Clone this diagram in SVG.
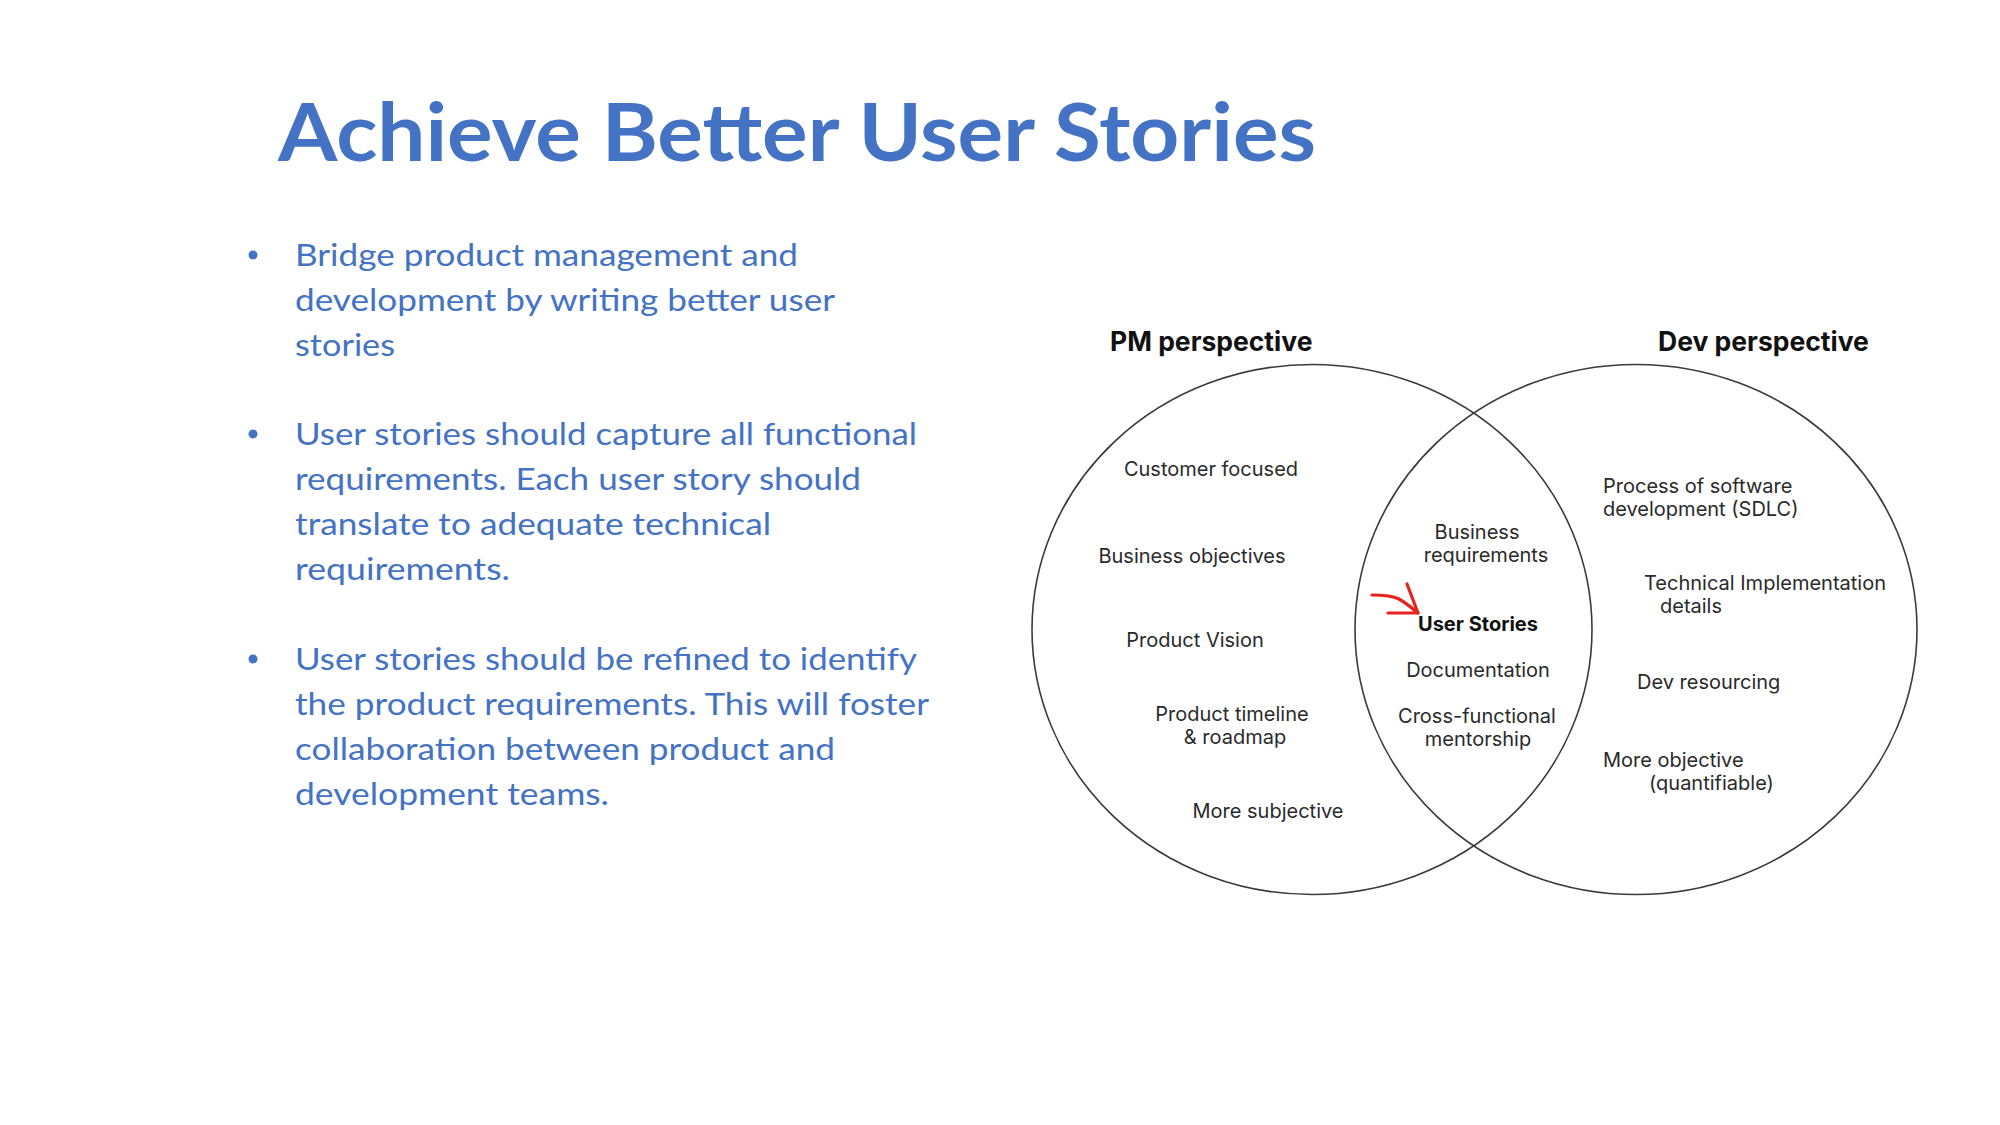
<svg xmlns="http://www.w3.org/2000/svg" width="2000" height="1125" viewBox="0 0 2000 1125">
  <style>
    .title { font-family: Lato, "Liberation Sans", sans-serif; font-weight: 700; font-size: 80px; fill: #4472C4; }
    .bullet { font-family: Lato, "Liberation Sans", sans-serif; font-size: 31px; fill: #4472C4; }
    .dot { fill: #4472C4; }
    .ring { fill: none; stroke: #3a3a3a; stroke-width: 1.6; }
    .head { font-family: Inter, "Liberation Sans", sans-serif; font-weight: 700; font-size: 26.5px; fill: #111; }
    .lbl { font-family: Inter, "Liberation Sans", sans-serif; font-size: 20px; fill: #2a2a2a; }
    .lbl-b { font-family: Inter, "Liberation Sans", sans-serif; font-weight: 700; font-size: 20px; fill: #111; }
    .mid { text-anchor: middle; }
    .pen { fill: none; stroke: #e8231c; stroke-width: 3.2; stroke-linecap: round; stroke-linejoin: round; }
  </style>

  <rect width="2000" height="1125" fill="#ffffff"/>

  <!-- Heading -->
  <text id="title" class="title" x="278" y="161" textLength="1038" lengthAdjust="spacingAndGlyphs">Achieve Better User Stories</text>

  <!-- Bullet list -->
  <g id="bullets">
    <g id="bullet-1">
      <circle class="dot" cx="253" cy="255" r="4.5"/>
      <text class="bullet" x="295" y="266" textLength="503" lengthAdjust="spacingAndGlyphs">Bridge product management and</text>
      <text class="bullet" x="295" y="311" textLength="540" lengthAdjust="spacingAndGlyphs">development by writing better user</text>
      <text class="bullet" x="295" y="356" textLength="100" lengthAdjust="spacingAndGlyphs">stories</text>
    </g>
    <g id="bullet-2">
      <circle class="dot" cx="253" cy="434" r="4.5"/>
      <text class="bullet" x="295" y="445" textLength="622" lengthAdjust="spacingAndGlyphs">User stories should capture all functional</text>
      <text class="bullet" x="295" y="490" textLength="566" lengthAdjust="spacingAndGlyphs">requirements. Each user story should</text>
      <text class="bullet" x="295" y="535" textLength="476" lengthAdjust="spacingAndGlyphs">translate to adequate technical</text>
      <text class="bullet" x="295" y="580" textLength="215" lengthAdjust="spacingAndGlyphs">requirements.</text>
    </g>
    <g id="bullet-3">
      <circle class="dot" cx="253" cy="659" r="4.5"/>
      <text class="bullet" x="295" y="670" textLength="622" lengthAdjust="spacingAndGlyphs">User stories should be refined to identify</text>
      <text class="bullet" x="295" y="715" textLength="634" lengthAdjust="spacingAndGlyphs">the product requirements. This will foster</text>
      <text class="bullet" x="295" y="760" textLength="540" lengthAdjust="spacingAndGlyphs">collaboration between product and</text>
      <text class="bullet" x="295" y="805" textLength="314" lengthAdjust="spacingAndGlyphs">development teams.</text>
    </g>
  </g>

  <!-- Venn diagram: PM side -->
  <g id="pm-perspective">
    <ellipse class="ring" cx="1312" cy="629.5" rx="280" ry="265"/>
    <text class="head" x="1110" y="351">PM perspective</text>
    <text class="lbl mid" x="1211" y="476">Customer focused</text>
    <text class="lbl mid" x="1192" y="563">Business objectives</text>
    <text class="lbl mid" x="1195" y="647">Product Vision</text>
    <text class="lbl mid" x="1232" y="721">Product timeline</text>
    <text class="lbl mid" x="1235" y="744">&amp; roadmap</text>
    <text class="lbl mid" x="1268" y="818">More subjective</text>
  </g>

  <!-- Venn diagram: Dev side -->
  <g id="dev-perspective">
    <ellipse class="ring" cx="1636" cy="629.5" rx="281" ry="265"/>
    <text class="head" x="1658" y="351">Dev perspective</text>
    <text class="lbl" x="1603" y="493">Process of software</text>
    <text class="lbl" x="1603" y="516">development (SDLC)</text>
    <text class="lbl" x="1644" y="590">Technical Implementation</text>
    <text class="lbl" x="1660" y="613">details</text>
    <text class="lbl" x="1637" y="689">Dev resourcing</text>
    <text class="lbl" x="1603" y="767">More objective</text>
    <text class="lbl" x="1649" y="790">(quantifiable)</text>
  </g>

  <!-- Venn diagram: shared overlap -->
  <g id="overlap">
    <text class="lbl mid" x="1477" y="539">Business</text>
    <text class="lbl mid" x="1486" y="562">requirements</text>
    <text class="lbl-b mid" x="1478" y="631">User Stories</text>
    <text class="lbl mid" x="1478" y="677">Documentation</text>
    <text class="lbl mid" x="1477" y="723">Cross-functional</text>
    <text class="lbl mid" x="1478" y="746">mentorship</text>
  </g>

  <!-- Hand-drawn pointer to "User Stories" -->
  <g id="connectors">
    <path class="pen" d="M1372,595 C1384,595 1393,596 1399,599 C1406,603 1412,608 1418,613"/>
    <path class="pen" d="M1407,584 L1418,613 L1388,613"/>
  </g>
</svg>
